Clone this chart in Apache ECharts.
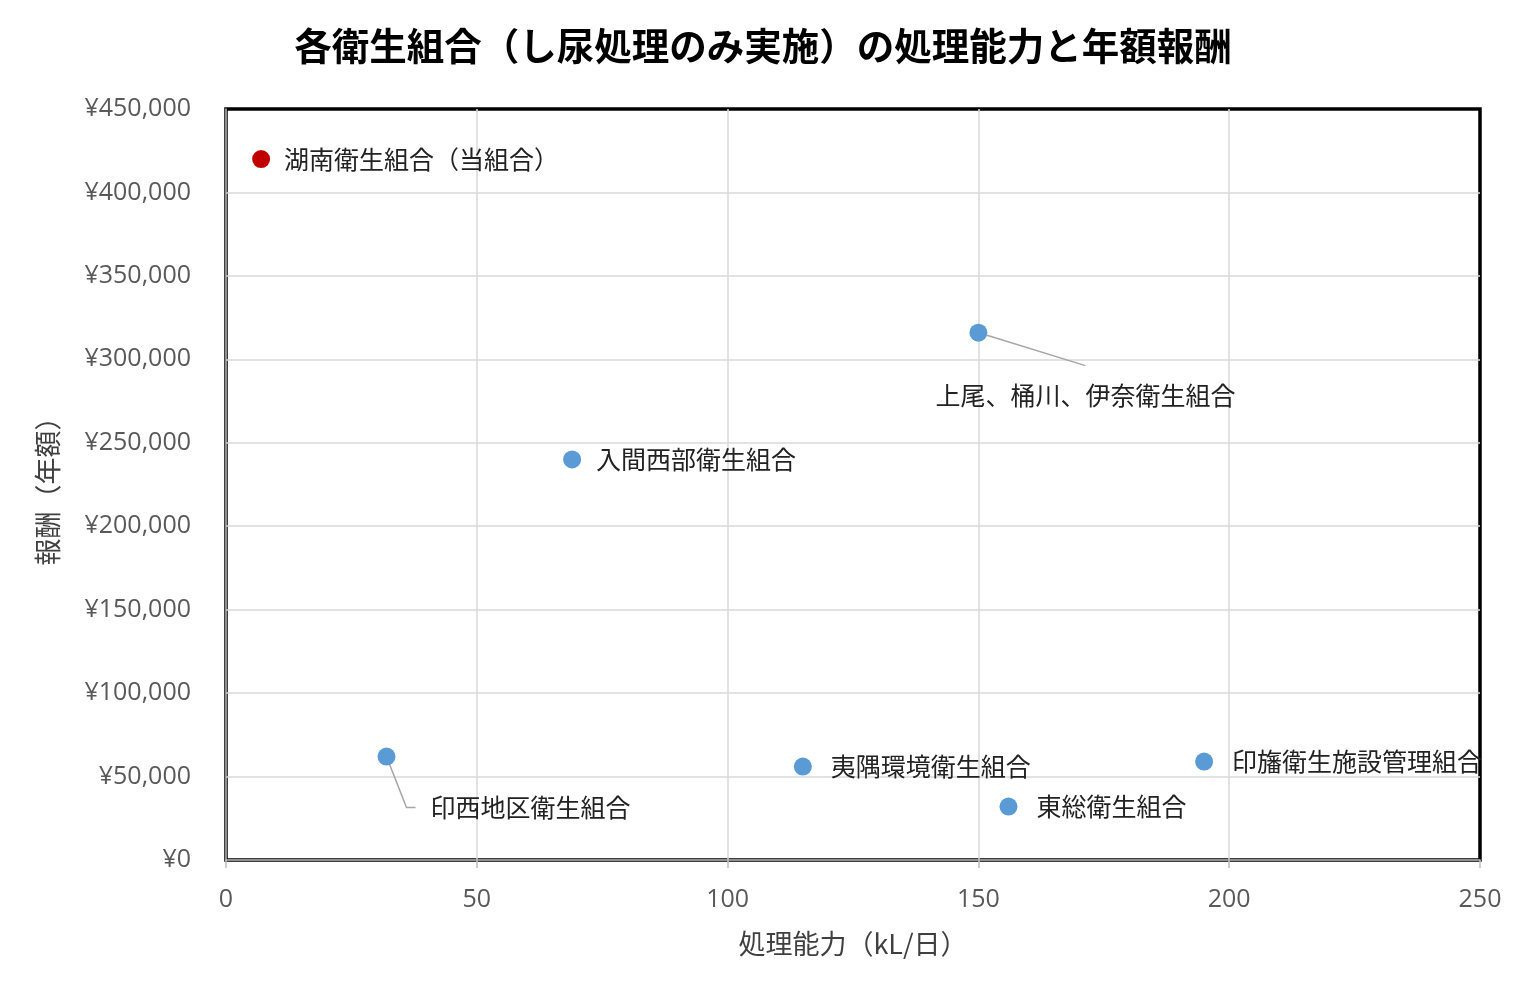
<!DOCTYPE html>
<html>
<head>
<meta charset="utf-8">
<script src="https://cdn.jsdelivr.net/npm/echarts@6/dist/echarts.min.js"></script>
<style>
html,body{margin:0;padding:0;background:#fff;}
#c{width:1526px;height:996px;}
</style>
</head>
<body>
<div id="c"></div>
<script>
const names = ['湖南衛生組合（当組合）','上尾、桶川、伊奈衛生組合','入間西部衛生組合','印西地区衛生組合','夷隅環境衛生組合','東総衛生組合','印旛衛生施設管理組合'];
const capacity = [7, 150, 69, 32, 115, 156, 195];
const reward = [420000, 316000, 240000, 62000, 56000, 32000, 59000];
const xTicks = [0, 50, 100, 150, 200, 250];
const yTicks = [0, 50000, 100000, 150000, 200000, 250000, 300000, 350000, 400000, 450000];

const font = '"Noto Sans CJK JP", "Noto Sans", sans-serif';
const numFont = '"Open Sans", "Noto Sans", sans-serif';
const labelBase = {show: true, color: '#222', fontSize: 25, fontFamily: font, position: 'right', distance: 15};
const labelDistance = [14, 24, 15, 20, 19, 19, 19];
const guideStyle = {color: '#A6A6A6', width: 1.5};

const data = names.map((n, i) => {
  const item = {name: n, value: [capacity[i], reward[i]], label: Object.assign({}, labelBase, {formatter: n, distance: labelDistance[i]})};
  if (i === 0) item.itemStyle = {color: '#C00000', opacity: 1};
  if (i === 1) {
    item.label.position = 'bottom';
    item.label.padding = [17, 80, 0, 80];
    item.label.backgroundColor = 'rgba(255,255,255,0)';
    item.labelLine = {show: true, lineStyle: guideStyle};
  }
  if (i === 3) {
    item.label.padding = [0, 0, 0, 15];
    item.label.backgroundColor = 'rgba(255,255,255,0)';
    item.labelLine = {show: true, length2: 9, lineStyle: guideStyle};
  }
  return item;
});

const labelShift = {1: {dx: 107, dy: 0}, 3: {dx: 0, dy: 51}};

const chart = echarts.init(document.getElementById('c'));
chart.setOption({
  animation: false,
  title: {
    text: '各衛生組合（し尿処理のみ実施）の処理能力と年額報酬',
    left: 'center', top: 22,
    textStyle: {fontSize: 37.5, fontWeight: 'bold', color: '#000', fontFamily: font}
  },
  grid: {left: 226, right: 46, top: 109, bottom: 136, show: true, borderColor: '#000', borderWidth: 3.5, backgroundColor: 'transparent'},
  xAxis: {
    type: 'value', min: xTicks[0], max: xTicks[xTicks.length - 1], interval: 50,
    name: '処理能力（kL/日）', nameLocation: 'middle', nameGap: 70,
    nameTextStyle: {fontSize: 27, color: '#404040', fontFamily: font},
    axisLine: {show: true, lineStyle: {color: '#BFBFBF', width: 1.5}},
    axisTick: {show: true, length: 8, lineStyle: {color: '#BFBFBF', width: 1.5}},
    axisLabel: {fontSize: 25, color: '#595959', fontFamily: numFont, margin: 27},
    splitLine: {show: true, showMinLine: false, showMaxLine: false, lineStyle: {color: '#D9D9D9', width: 1.5}}
  },
  yAxis: {
    type: 'value', min: yTicks[0], max: yTicks[yTicks.length - 1], interval: 50000,
    name: '報酬（年額）', nameLocation: 'middle', nameGap: 165,
    nameTextStyle: {fontSize: 27, color: '#404040', fontFamily: font},
    axisLine: {show: true, lineStyle: {color: '#BFBFBF', width: 1.5}},
    axisTick: {show: false},
    axisLabel: {fontSize: 25, color: '#595959', fontFamily: numFont, margin: 35, padding: [4, 0, 0, 0],
      formatter: v => '¥' + v.toLocaleString('en-US')},
    splitLine: {show: true, showMinLine: false, showMaxLine: false, lineStyle: {color: '#D9D9D9', width: 1.5}}
  },
  series: [{
    type: 'scatter', symbolSize: 18,
    itemStyle: {color: '#5B9BD5', opacity: 1},
    labelLayout: function (p) { return labelShift[p.dataIndex] || {}; },
    data: data
  }]
});
</script>
</body>
</html>
